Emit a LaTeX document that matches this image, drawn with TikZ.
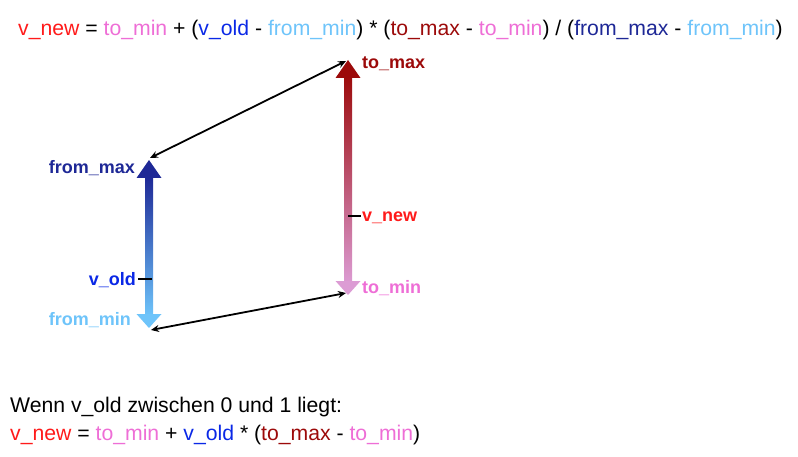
\documentclass[tikz,border=0pt]{standalone}
\usepackage{fontspec}
\setmainfont{Liberation Sans}
\usetikzlibrary{arrows.meta}
\definecolor{cVnew}{HTML}{FF1A1A}
\definecolor{cTomin}{HTML}{EE6ED6}
\definecolor{cVold}{HTML}{0A28E6}
\definecolor{cFrommin}{HTML}{6EC4FA}
\definecolor{cTomax}{HTML}{9C0A0A}
\definecolor{cFrommax}{HTML}{1E2896}
\definecolor{cTominArrow}{HTML}{DC9CD4}
\tikzset{
  formula/.style={anchor=base west, inner sep=0pt, font=\fontsize{21.2}{25}\selectfont},
  lbl/.style={inner sep=0pt, font=\fontsize{18}{21}\selectfont\bfseries},
  conn/.style={line width=1.8pt, {Stealth[length=8pt,width=7pt]}-{Stealth[length=8pt,width=7pt]}},
  tick/.style={line width=1.6pt}
}
\begin{document}
\begin{tikzpicture}[x=1pt,y=-1pt]
\useasboundingbox (0,0) rectangle (798,457);
% formula
\node[formula] (f) at (18,36) {\textcolor{cVnew}{v\_new} = \textcolor{cTomin}{to\_min} + (\textcolor{cVold}{v\_old} - \textcolor{cFrommin}{from\_min}) * (\textcolor{cTomax}{to\_max} - \textcolor{cTomin}{to\_min}) / (\textcolor{cFrommax}{from\_max} - \textcolor{cFrommin}{from\_min})};
% blue arrow
\shade[top color=cFrommax, bottom color=cFrommin] (145,176) rectangle (153,316);
\fill[cFrommax] (149,160) -- (161.5,178) -- (136.5,178) -- cycle;
\fill[cFrommin] (149,328) -- (161.5,314) -- (136.5,314) -- cycle;
\coordinate (fmax) at (150,158);
\coordinate (fmin) at (151,330);
% red arrow
\shade[top color=cTomax, bottom color=cTominArrow] (344,75) rectangle (352,284);
\fill[cTomax] (348,60) -- (360.5,78) -- (335.5,78) -- cycle;
\fill[cTominArrow] (348,295) -- (360.5,281) -- (335.5,281) -- cycle;
\coordinate (tmax) at (346,61);
\coordinate (tmin) at (346,293);
% labels
\node[lbl, anchor=base east, text=cFrommax] (lfmax) at (135,174) {from\_max};
\node[lbl, anchor=base east, text=cVold] (lvold) at (136,285) {v\_old};
\node[lbl, anchor=base east, text=cFrommin] (lfmin) at (131,325) {from\_min};
\node[lbl, anchor=base west, text=cTomax] (ltmax) at (362,69) {to\_max};
\node[lbl, anchor=base west, text=cVnew] (lvnew) at (362,222) {v\_new};
\node[lbl, anchor=base west, text=cTomin] (ltmin) at (362,294) {to\_min};
\coordinate (vo1) at (138,279);
\coordinate (vo2) at (152,279);
\coordinate (vn1) at (348,216);
\coordinate (vn2) at (361,216);
\draw[tick] (vo1) -- (vo2);
\draw[tick] (vn1) -- (vn2);
% connectors
\draw[conn] (fmax) -- (tmax);
\draw[conn] (fmin) -- (tmin);
% bottom text
\node[formula] (w1) at (10,412) {Wenn v\_old zwischen 0 und 1 liegt:};
\node[formula] (w2) at (10,440) {\textcolor{cVnew}{v\_new} = \textcolor{cTomin}{to\_min} + \textcolor{cVold}{v\_old} * (\textcolor{cTomax}{to\_max} - \textcolor{cTomin}{to\_min})};
\end{tikzpicture}
\end{document}
